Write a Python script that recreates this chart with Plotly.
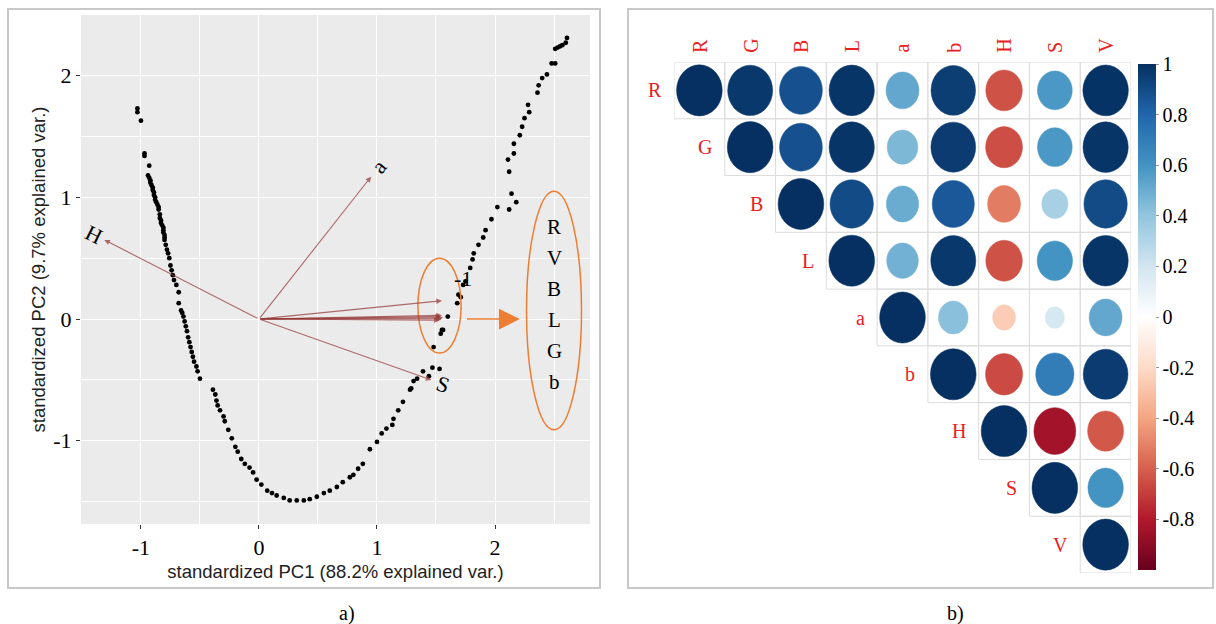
import math
import plotly.graph_objects as go
from plotly.colors import sample_colorscale

W, H = 1216, 624

# ---------------- PCA biplot data ----------------
pc1 = [-1.03, -1.03, -1.00, -0.97, -0.97, -0.93,
       -0.94, -0.93, -0.92, -0.92, -0.91, -0.90, -0.90, -0.89, -0.89, -0.88, -0.88, -0.87,
       -0.86, -0.85, -0.85, -0.84, -0.84, -0.83, -0.83, -0.82, -0.81, -0.81, -0.81, -0.80,
       -0.80, -0.80, -0.79, -0.78, -0.77, -0.76, -0.75,
       -0.74, -0.73, -0.72, -0.70, -0.68, -0.68, -0.66, -0.65, -0.64, -0.63, -0.62, -0.61,
       -0.60, -0.59, -0.58, -0.57, -0.56, -0.55, -0.53, -0.52, -0.50,
       -0.39, -0.37, -0.36, -0.35, -0.33, -0.30,
       -0.29, -0.26, -0.23, -0.20, -0.18, -0.15, -0.12, -0.08, -0.05, -0.02, 0.02, 0.07,
       0.11, 0.15, 0.21, 0.26, 0.32, 0.38, 0.43, 0.49, 0.55, 0.60, 0.66, 0.71, 0.77, 0.80,
       0.84, 0.88, 0.94, 1.00, 1.04, 1.08, 1.13, 1.14, 1.18, 1.22, 1.28,
       1.29, 1.31, 1.34, 1.39, 1.44, 1.47, 1.53, 1.48, 1.54, 1.56, 1.55, 1.60, 1.68, 1.69, 1.71,
       1.75, 1.73, 1.79, 1.81, 1.82, 1.86, 1.90, 1.92, 1.97, 2.02, 2.12, 2.18, 2.14, 2.12,
       2.11, 2.16, 2.16, 2.21, 2.23, 2.25, 2.29, 2.28, 2.36, 2.37, 2.40, 2.44, 2.48, 2.51,
       2.51, 2.53, 2.55, 2.57, 2.60, 2.61]
pc2 = [1.73, 1.70, 1.63, 1.36, 1.34, 1.26,
       1.18, 1.16, 1.14, 1.12, 1.10, 1.08, 1.06, 1.04, 1.02, 1.00, 0.98, 0.96,
       0.94, 0.92, 0.90, 0.86, 0.83, 0.81, 0.79, 0.77, 0.75, 0.73, 0.71, 0.69,
       0.67, 0.65, 0.61, 0.57, 0.54, 0.50, 0.44,
       0.40, 0.36, 0.32, 0.28, 0.22, 0.13, 0.07, 0.05, 0.02, -0.02, -0.06, -0.10,
       -0.15, -0.19, -0.23, -0.27, -0.31, -0.35, -0.39, -0.43, -0.49,
       -0.58, -0.62, -0.67, -0.71, -0.75, -0.80,
       -0.84, -0.91, -0.98, -1.05, -1.09, -1.15, -1.19, -1.22, -1.26, -1.32, -1.36, -1.41,
       -1.43, -1.45, -1.47, -1.49, -1.49, -1.49, -1.48, -1.46, -1.43, -1.41, -1.38, -1.34,
       -1.30, -1.28,
       -1.23, -1.19, -1.07, -1.01, -0.94, -0.90, -0.87, -0.82, -0.75, -0.68, -0.58,
       -0.57, -0.51, -0.49, -0.43, -0.47, -0.40, -0.41, -0.23, -0.12, -0.09, -0.09, 0.02,
       0.13, 0.20, 0.18,
       0.31, 0.28, 0.42, 0.49, 0.54, 0.61, 0.67, 0.73, 0.82, 0.92, 0.90, 0.96, 1.03, 1.21,
       1.31, 1.36, 1.44, 1.51, 1.58, 1.65, 1.70, 1.76, 1.86, 1.92, 1.98, 2.01, 2.10, 2.10,
       2.22, 2.23, 2.24, 2.25, 2.27, 2.31]

# variable loadings (arrow tips)
arrow_vars = ["H", "a", "S", "R", "V", "B", "L", "G", "b"]
arrow_pc1 = [-1.31, 0.95, 1.46, 1.55, 1.56, 1.53, 1.55, 1.54, 1.55]
arrow_pc2 = [0.65, 1.17, -0.50, 0.03, 0.01, -0.01, 0.00, 0.02, 0.15]
labelled_vars = ["H", "a", "S"]
grouped_vars = ["R", "V", "B", "L", "G", "b"]

bi_ticks = [-1, 0, 1, 2]
bi_ticktext = ["-1", "0", "1", "2"]

# ---------------- correlation matrix (upper triangle) ----------------
corr_vars = ["R", "G", "B", "L", "a", "b", "H", "S", "V"]
corr_R = [1.00, 0.97, 0.88, 0.98, 0.52, 0.95, -0.64, 0.58, 0.99]
corr_G = [1.00, 0.88, 0.98, 0.45, 0.96, -0.65, 0.58, 0.98]
corr_B = [1.00, 0.90, 0.50, 0.85, -0.52, 0.33, 0.90]
corr_L = [1.00, 0.48, 0.97, -0.64, 0.60, 0.98]
corr_a = [1.00, 0.42, -0.25, 0.18, 0.52]
corr_b = [1.00, -0.66, 0.70, 0.96]
corr_H = [1.00, -0.84, -0.62]
corr_S = [1.00, 0.60]
corr_V = [1.00]
corr_rows = [corr_R, corr_G, corr_B, corr_L, corr_a, corr_b, corr_H, corr_S, corr_V]

cbar_ticks = [1, 0.8, 0.6, 0.4, 0.2, 0, -0.2, -0.4, -0.6, -0.8]
cbar_ticktext = ["1", "0.8", "0.6", "0.4", "0.2", "0", "-0.2", "-0.4", "-0.6", "-0.8"]

rdbu_hex = ["#67001F", "#B2182B", "#D6604D", "#F4A582", "#FDDBC7", "#FFFFFF",
            "#D1E5F0", "#92C5DE", "#4393C3", "#2166AC", "#053061"]


def hex_rgb(h):
    return "rgb(%d,%d,%d)" % (int(h[1:3], 16), int(h[3:5], 16), int(h[5:7], 16))


rdbu = [[i / (len(rdbu_hex) - 1), hex_rgb(c)] for i, c in enumerate(rdbu_hex)]

SERIF = "Liberation Serif, Times New Roman, serif"
SANS = "Liberation Sans, Arial, sans-serif"
ORANGE = "#ED7D31"
ARROW_COL = "rgba(150,55,55,0.72)"
LABEL_RED = "#E8211F"


def px_x(p):
    return p / W


def px_y(p):
    return 1 - p / H


fig = go.Figure()

# scores
fig.add_trace(go.Scatter(
    x=pc1, y=pc2, mode="markers", xaxis="x", yaxis="y",
    marker=dict(color="black", size=4.8), showlegend=False,
    hovertemplate="PC1 %{x}<br>PC2 %{y}<extra></extra>"))

annotations = []
shapes = []

# gray panel background of the biplot
shapes.append(dict(type="rect", xref="x domain", yref="y domain", x0=0, x1=1, y0=0, y1=1,
                   fillcolor="#EBEBEB", line=dict(width=0), layer="below"))

# loading arrows
for name, vx, vy in zip(arrow_vars, arrow_pc1, arrow_pc2):
    annotations.append(dict(x=vx, y=vy, ax=0, ay=0, xref="x", yref="y", axref="x", ayref="y",
                            text="", showarrow=True, arrowhead=2, arrowsize=1.0,
                            arrowwidth=1.1, arrowcolor=ARROW_COL, standoff=0))
    if name in labelled_vars:
        ang = math.degrees(math.atan(vy / vx))
        annotations.append(dict(x=vx * 1.07, y=vy * 1.07, xref="x", yref="y", text=name,
                                showarrow=False, textangle=-ang,
                                font=dict(family=SERIF, size=22, color="black")))

# overlapping label spot near the grouped arrows
annotations.append(dict(x=1.73, y=0.33, xref="x", yref="y", text="-1", showarrow=False,
                        font=dict(family=SERIF, size=22, color="black")))

# grouping ellipses and pointer arrow
small_ell = dict(cx=1.53, cy=0.11, rx=0.183, ry=0.39)
big_ell = dict(cx=2.50, cy=0.07, rx=0.233, ry=0.98)
for e in (small_ell, big_ell):
    shapes.append(dict(type="circle", xref="x", yref="y",
                       x0=e["cx"] - e["rx"], x1=e["cx"] + e["rx"],
                       y0=e["cy"] - e["ry"], y1=e["cy"] + e["ry"],
                       line=dict(color=ORANGE, width=1.5)))
annotations.append(dict(x=2.21, y=0, ax=1.75, ay=0, xref="x", yref="y", axref="x", ayref="y",
                        text="", showarrow=True, arrowhead=2, arrowsize=2.6, arrowwidth=1.6,
                        arrowcolor=ORANGE, standoff=0))
for i, name in enumerate(grouped_vars):
    annotations.append(dict(x=big_ell["cx"], y=0.755 - 0.255 * i, xref="x", yref="y",
                            text=name, showarrow=False,
                            font=dict(family=SERIF, size=21, color="black")))

# ---------------- correlation plot ----------------
cx, cy, cval = [], [], []
for i, row in enumerate(corr_rows):
    for k, r in enumerate(row):
        j = i + k
        cx.append(j)
        cy.append(i)
        cval.append(r)
        shapes.append(dict(type="rect", xref="x2", yref="y2", x0=j - 0.5, x1=j + 0.5,
                           y0=i - 0.5, y1=i + 0.5, line=dict(color="#DCDCDC", width=1),
                           layer="below"))

for j, i, r in zip(cx, cy, cval):
    rad = 0.45 * math.sqrt(abs(r))
    col = sample_colorscale(rdbu, [(r + 1) / 2])[0]
    shapes.append(dict(type="circle", xref="x2", yref="y2", x0=j - rad, x1=j + rad,
                       y0=i - rad, y1=i + rad, fillcolor=col, line=dict(color=col, width=0.5)))

fig.add_trace(go.Scatter(
    x=cx, y=cy, mode="markers", xaxis="x2", yaxis="y2", showlegend=False,
    text=[f"{corr_vars[i]} – {corr_vars[j]}" for j, i in zip(cx, cy)],
    hovertemplate="%{text}: %{marker.color}<extra></extra>",
    marker=dict(size=40, opacity=0, color=cval, colorscale=rdbu, cmin=-1, cmax=1,
                showscale=True,
                colorbar=dict(x=px_x(1138), xanchor="left", xpad=0, thickness=18,
                              y=px_y(317), yanchor="middle", len=506 / H, lenmode="fraction",
                              ypad=0, outlinewidth=0, ticks="outside", ticklen=3,
                              tickcolor="#999999",
                              tickvals=cbar_ticks, ticktext=cbar_ticktext,
                              tickfont=dict(family=SERIF, size=20, color="black")))))

for idx, name in enumerate(corr_vars):
    annotations.append(dict(x=idx, y=-0.49, xref="x2", yref="y2", text=name, showarrow=False,
                            textangle=-90, yanchor="bottom", yshift=8,
                            font=dict(family=SERIF, size=20, color=LABEL_RED)))
    annotations.append(dict(x=idx - 0.49, y=idx, xref="x2", yref="y2", text=name,
                            showarrow=False, xanchor="right", xshift=-11,
                            font=dict(family=SERIF, size=20, color=LABEL_RED)))

# panel frames and captions
for x0, x1 in ((8, 600), (628, 1213)):
    shapes.append(dict(type="rect", xref="paper", yref="paper", x0=px_x(x0), x1=px_x(x1),
                       y0=px_y(588), y1=px_y(9), line=dict(color="#C8C8C8", width=2)))
for text, xp in (("a)", 337), ("b)", 966)):
    annotations.append(dict(x=px_x(xp), y=px_y(600), xref="paper", yref="paper", text=text,
                            yanchor="top", showarrow=False,
                            font=dict(family=SERIF, size=20, color="black")))

axis_font = dict(family=SANS, size=18.5, color="#222222")
fig.update_layout(
    width=W, height=H, margin=dict(l=0, r=0, t=0, b=0),
    paper_bgcolor="white", plot_bgcolor="rgba(0,0,0,0)",
    xaxis=dict(domain=[px_x(81), px_x(590)], range=[-1.508, 2.805],
               tickvals=bi_ticks, ticktext=bi_ticktext, ticks="outside", ticklen=4,
               tickcolor="#333333", showgrid=True, gridcolor="white", gridwidth=1.3,
               zeroline=False, showline=False,
               minor=dict(dtick=0.5, tick0=0, showgrid=True, gridcolor="white", gridwidth=0.6),
               tickfont=dict(family=SERIF, size=22, color="black"),
               title=dict(text="standardized PC1 (88.2% explained var.)", font=axis_font,
                          standoff=5)),
    yaxis=dict(domain=[px_y(524), px_y(15)], range=[-1.684, 2.498],
               tickvals=bi_ticks, ticktext=bi_ticktext, ticks="outside", ticklen=4,
               tickcolor="#333333", showgrid=True, gridcolor="white", gridwidth=1.3,
               zeroline=False, showline=False,
               minor=dict(dtick=0.5, tick0=0, showgrid=True, gridcolor="white", gridwidth=0.6),
               tickfont=dict(family=SERIF, size=22, color="black"),
               title=dict(text="standardized PC2 (9.7% explained var.)", font=axis_font,
                          standoff=2)),
    xaxis2=dict(domain=[px_x(674), px_x(1131)], range=[-0.5, 8.5], visible=False,
                anchor="y2"),
    yaxis2=dict(domain=[px_y(573), px_y(62)], range=[8.5, -0.5], visible=False,
                anchor="x2"),
    shapes=shapes, annotations=annotations,
)

fig.write_html("out.html")
